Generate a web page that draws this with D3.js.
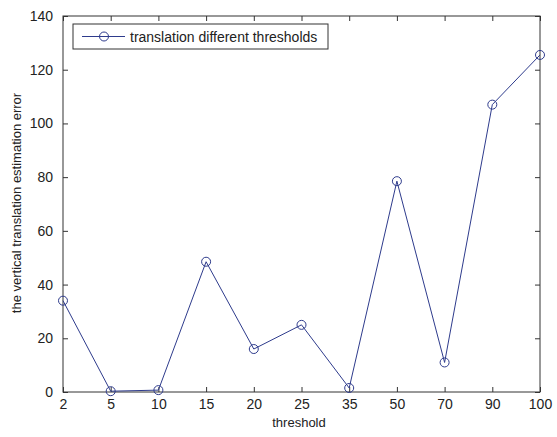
<!DOCTYPE html>
<html>
<head>
<meta charset="utf-8">
<script src="https://cdn.jsdelivr.net/npm/d3@7"></script>
<style>
  body { margin: 0; background: #fff; }
  text { font-family: "Liberation Sans", Arial, sans-serif; fill: #222; }
</style>
</head>
<body>
<div id="chart"></div>
<script>
// data
const thresholds = ["2", "5", "10", "15", "20", "25", "35", "50", "70", "90", "100"];
const errors = [34, 0.3, 0.7, 48.5, 16, 25, 1.5, 78.5, 11, 107, 125.5];
const yTicks = [0, 20, 40, 60, 80, 100, 120, 140];
const seriesName = "translation different thresholds";

const width = 557, height = 437;
const plotLeft = 63, plotRight = 540, plotTop = 16, plotBottom = 392;
const lineColor = "#2e3b8c";
const fontSize = 14;
const labelSize = 13;

const svg = d3.select("#chart").append("svg")
    .attr("width", width)
    .attr("height", height);

const x = d3.scalePoint().domain(thresholds).range([plotLeft, plotRight]);
const y = d3.scaleLinear().domain([0, 140]).range([plotBottom, plotTop]);

// plot frame
svg.append("rect")
    .attr("x", plotLeft).attr("y", plotTop)
    .attr("width", plotRight - plotLeft).attr("height", plotBottom - plotTop)
    .attr("fill", "#fff").attr("stroke", "#333").attr("stroke-width", 1);

// axes with inward ticks, mirrored on opposite sides
const axisStyle = (g) => {
    g.select(".domain").remove();
    g.selectAll(".tick line").attr("stroke", "#333");
    g.selectAll(".tick text").attr("font-size", fontSize).attr("fill", "#222")
        .style("font-family", "'Liberation Sans', Arial, sans-serif");
};

svg.append("g")
    .attr("transform", `translate(0,${plotBottom})`)
    .call(d3.axisBottom(x).tickSizeInner(-5).tickPadding(7))
    .call(axisStyle);

svg.append("g")
    .attr("transform", `translate(0,${plotTop})`)
    .call(d3.axisTop(x).tickSizeInner(-5).tickFormat(""))
    .call(axisStyle);

svg.append("g")
    .attr("transform", `translate(${plotLeft},0)`)
    .call(d3.axisLeft(y).tickValues(yTicks).tickSizeInner(-5).tickPadding(10))
    .call(axisStyle);

svg.append("g")
    .attr("transform", `translate(${plotRight},0)`)
    .call(d3.axisRight(y).tickValues(yTicks).tickSizeInner(-5).tickFormat(""))
    .call(axisStyle);

// series
const points = thresholds.map((t, i) => ({ t, v: errors[i] }));

svg.append("path")
    .datum(points)
    .attr("fill", "none")
    .attr("stroke", lineColor)
    .attr("stroke-width", 1)
    .attr("d", d3.line().x((d) => x(d.t)).y((d) => y(d.v)));

svg.selectAll("circle.pt")
    .data(points)
    .enter()
    .append("circle")
    .attr("class", "pt")
    .attr("cx", (d) => x(d.t))
    .attr("cy", (d) => y(d.v))
    .attr("r", 4.5)
    .attr("fill", "none")
    .attr("stroke", lineColor)
    .attr("stroke-width", 1);

// axis labels
svg.append("text")
    .attr("x", 299)
    .attr("y", 427)
    .attr("text-anchor", "middle")
    .attr("font-size", labelSize)
    .text("threshold");

svg.append("text")
    .attr("transform", `translate(21,203) rotate(-90)`)
    .attr("text-anchor", "middle")
    .attr("font-size", labelSize)
    .text("the vertical translation estimation error");

// legend
const legend = svg.append("g").attr("transform", "translate(73,24)");
legend.append("rect")
    .attr("width", 255).attr("height", 25)
    .attr("fill", "#fff").attr("stroke", "#333");
legend.append("line")
    .attr("x1", 9).attr("x2", 52).attr("y1", 12.5).attr("y2", 12.5)
    .attr("stroke", lineColor);
legend.append("circle")
    .attr("cx", 31).attr("cy", 12.5).attr("r", 4.5)
    .attr("fill", "none").attr("stroke", lineColor);
legend.append("text")
    .attr("x", 57).attr("y", 17.5)
    .attr("font-size", fontSize)
    .text(seriesName);
</script>
</body>
</html>
